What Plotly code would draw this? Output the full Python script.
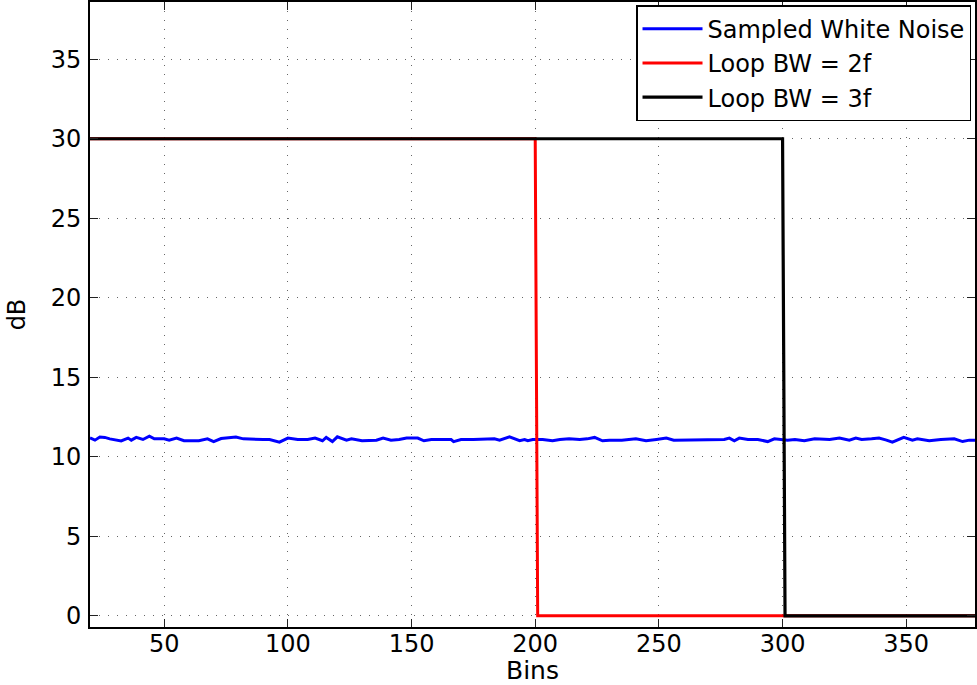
import plotly.graph_objects as go

# Sampled white noise
noise_bins = [20, 22, 24, 26, 28, 30, 32.6, 35.4, 36.7, 38.7, 41.4, 44, 46, 50, 52, 55, 58, 61, 64,
              67.5, 70, 73, 76, 79, 82, 86, 90, 92.6, 96.6, 100, 104, 108, 111, 114, 115.5, 118,
              120, 123.7, 125.7, 130, 135.8, 138.5, 141.7, 145, 148, 152.5, 155, 158, 162, 166,
              167, 170, 175, 179.5, 183.5, 185.6, 189.6, 193.7, 195.7, 197, 199, 203, 207, 210,
              213.7, 218, 221, 224, 227.2, 230, 235, 240.7, 244.8, 249, 253, 256, 259.6, 261.6,
              265.6, 270, 276.4, 278.5, 280.5, 282.5, 286, 290, 294, 296.7, 299.4, 302, 305,
              308.8, 313, 317, 319, 323, 327, 329.6, 332, 336, 339, 342, 344.4, 349, 352.5,
              354.5, 359.3, 364, 369.4, 372.8, 375.5, 380]
noise_db = [11.20, 11.05, 11.25, 11.22, 11.13, 11.08, 11.00, 11.18, 11.05, 11.22, 11.09, 11.30,
            11.13, 11.13, 11.05, 11.18, 11.01, 11.01, 11.01, 11.13, 10.96, 11.15, 11.18, 11.24,
            11.13, 11.09, 11.09, 11.09, 10.92, 11.18, 11.09, 11.09, 11.18, 11.01, 11.22, 10.96,
            11.26, 11.05, 11.13, 11.01, 11.05, 11.18, 11.05, 11.09, 11.18, 11.18, 11.01, 11.09,
            11.09, 11.09, 10.96, 11.09, 11.09, 11.09, 11.13, 11.05, 11.26, 11.01, 11.09, 11.01,
            11.09, 11.09, 11.01, 11.09, 11.13, 11.09, 11.13, 11.22, 11.01, 11.05, 11.05, 11.13,
            11.01, 11.09, 11.18, 11.05, 11.05, 11.05, 11.09, 11.09, 11.09, 11.18, 11.01, 11.18,
            11.09, 11.09, 10.96, 11.13, 11.09, 11.05, 11.09, 11.01, 11.13, 11.09, 11.09, 11.18,
            11.05, 11.18, 11.09, 11.13, 11.18, 11.05, 10.92, 11.22, 11.05, 11.13, 11.01, 11.09,
            11.13, 10.96, 11.05, 11.05]

# Loop bandwidth masks
bw2_bins = [20, 200, 201, 380]
bw2_db = [30, 30, 0, 0]
bw3_bins = [20, 300, 301, 380]
bw3_db = [30, 30, 0, 0]

x_ticks = [50, 100, 150, 200, 250, 300, 350]
y_ticks = [0, 5, 10, 15, 20, 25, 30, 35]

font_family = "DejaVu Sans, Liberation Sans, Arial, sans-serif"

fig = go.Figure()
fig.add_trace(go.Scatter(x=noise_bins, y=noise_db, mode="lines", name="Sampled White Noise",
                         line=dict(color="#0000ff", width=3)))
fig.add_trace(go.Scatter(x=bw2_bins, y=bw2_db, mode="lines", name="Loop BW = 2f",
                         line=dict(color="#ff0000", width=3)))
fig.add_trace(go.Scatter(x=bw3_bins, y=bw3_db, mode="lines", name="Loop BW = 3f",
                         line=dict(color="#000000", width=3.2)))

axis_common = dict(
    showline=True, linecolor="black", linewidth=2, mirror="ticks",
    ticks="inside", ticklen=8, tickwidth=1.2, tickcolor="#222",
    showgrid=True, gridcolor="#666", gridwidth=1, griddash="1px,8px",
    zeroline=False, tickfont=dict(family=font_family, size=24, color="black"),
)

fig.update_layout(
    width=977, height=685,
    margin=dict(l=90, r=0, t=1, b=58),
    paper_bgcolor="white", plot_bgcolor="white",
    font=dict(family=font_family, color="black"),
    xaxis=dict(range=[20, 377.8], tickvals=x_ticks, ticklabelstandoff=-6,
               title=dict(text="Bins", font=dict(size=25), standoff=2), **axis_common),
    yaxis=dict(range=[-0.7, 38.6], tickvals=y_ticks, ticklabelstandoff=2,
               title=dict(text="dB", font=dict(size=24), standoff=18), **axis_common),
    legend=dict(x=0.9955, y=0.995, xanchor="right", yanchor="top",
                bgcolor="white", bordercolor="black", borderwidth=1.5,
                font=dict(family=font_family, size=24, color="black"),
                tracegroupgap=0, itemwidth=60),
    showlegend=True,
)

fig.write_html("out.html")
